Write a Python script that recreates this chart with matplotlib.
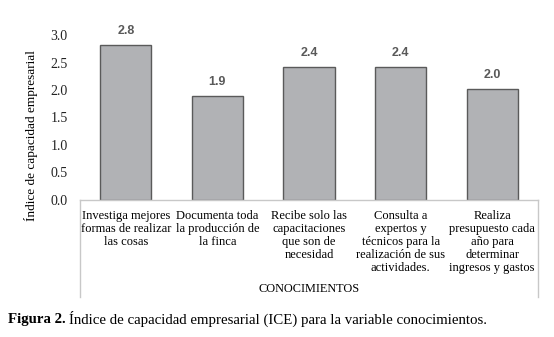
import matplotlib
matplotlib.use('Agg')
from matplotlib import pyplot as plt

# Data
categorias = ['Investiga mejores\nformas de realizar\nlas cosas',
              'Documenta toda\nla producción de\nla finca',
              'Recibe solo las\ncapacitaciones\nque son de\nnecesidad',
              'Consulta a\nexpertos y\ntécnicos para la\nrealización de sus\nactividades.',
              'Realiza\npresupuesto cada\naño para\ndeterminar\ningresos y gastos']
valores = [2.82, 1.89, 2.42, 2.42, 2.02]
etiquetas = ['2.8', '1.9', '2.4', '2.4', '2.0']
yticks = [0.0, 0.5, 1.0, 1.5, 2.0, 2.5, 3.0]

W, H = 554, 337
fig = plt.figure(figsize=(W / 100, H / 100), dpi=100)
serif = 'Liberation Serif'

# plot area: x 80..538, y 35..200 (pixels)
ax = fig.add_axes([80 / W, 1 - 200 / H, (538 - 80) / W, (200 - 35) / H])
x = range(len(valores))
ax.bar(x, valores, width=0.56, color='#b1b2b5', edgecolor='#5a5a5a', linewidth=1.0)
for i, (v, t) in enumerate(zip(valores, etiquetas)):
    ax.annotate(t, (i, v), xytext=(0, 6), textcoords='offset points', ha='center', va='bottom',
                fontsize=9, fontweight='bold', color='#595959', family='Liberation Sans')

ax.set_xlim(-0.5, len(valores) - 0.5)
ax.set_ylim(0, 3.0)
ax.set_yticks(yticks)
ax.set_yticklabels(['%.1f' % t for t in yticks], family=serif, fontsize=10, color='#222222')
ax.set_xticks(list(x))
ax.set_xticklabels(categorias, family=serif, fontsize=9, linespacing=1.12, va='top', ha='center')
ax.tick_params(axis='both', length=0)
ax.tick_params(axis='x', pad=7)
ax.tick_params(axis='y', pad=9)
for s in ['top', 'right', 'left']:
    ax.spines[s].set_visible(False)
ax.spines['bottom'].set_color('#c8c8c8')
ax.spines['bottom'].set_linewidth(1.0)

# borders of the category label area
yb = -(297 - 200) / (200 - 35)
for xa in [0, 1]:
    ax.plot([xa, xa], [0, yb], transform=ax.transAxes, color='#c8c8c8', lw=1.0, clip_on=False)

ax.text(0.5, -(289 - 200) / (200 - 35), 'CONOCIMIENTOS', transform=ax.transAxes,
        ha='center', va='center', family=serif, fontsize=8.8)

fig.text(31 / W, 1 - 136 / H, 'Índice de capacidad empresarial', rotation=90,
         ha='center', va='center', family=serif, fontsize=9.5)

# caption
t1 = fig.text(8 / W, 1 - 319 / H, 'Figura 2.', family=serif, fontweight='bold', fontsize=10.7,
              va='center', ha='left')
fig.canvas.draw()
bb = t1.get_window_extent()
fig.text((bb.x1 + 3) / W, 1 - 319 / H, 'Índice de capacidad empresarial (ICE) para la variable conocimientos.',
         family=serif, fontsize=10.7, va='center', ha='left')

plt.savefig('out.png', dpi=100)
